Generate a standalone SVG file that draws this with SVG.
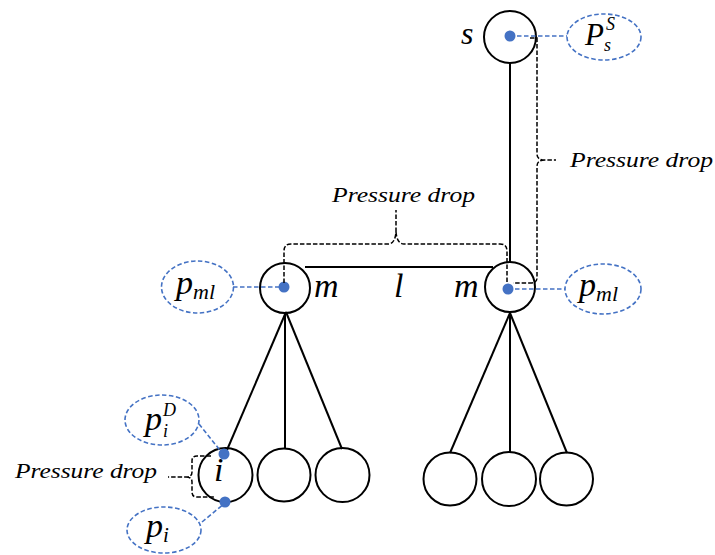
<svg xmlns="http://www.w3.org/2000/svg" width="715" height="555" viewBox="0 0 715 555">
<style>
.node{fill:none;stroke:#000;stroke-width:2}
.edge{fill:none;stroke:#000;stroke-width:2}
.dash{fill:none;stroke:#000;stroke-width:1.5;stroke-dasharray:4.5 2}
.bdash{fill:none;stroke:#4472C4;stroke-width:1.6;stroke-dasharray:4.5 2.5}
.dot{fill:#4472C4}
.math{font-family:"Liberation Serif","Times New Roman",serif;font-style:italic;fill:#000}
.lbl{font-family:"Liberation Serif","Times New Roman",serif;font-style:italic;font-size:22px;fill:#000}
</style>
<rect width="715" height="555" fill="#fff"/>
<g id="connectors">
<line class="edge" x1="510" y1="63" x2="510" y2="262"/>
<line class="edge" x1="305" y1="267" x2="493" y2="267"/>
<line class="edge" x1="286" y1="312" x2="227" y2="450"/>
<line class="edge" x1="285" y1="313" x2="285" y2="449"/>
<line class="edge" x1="286" y1="312" x2="342" y2="449"/>
<line class="edge" x1="510" y1="313" x2="450" y2="453"/>
<line class="edge" x1="510" y1="313" x2="510" y2="453"/>
<line class="edge" x1="510" y1="313" x2="567" y2="453"/>
</g>
<g id="node-s">
<circle class="node" cx="510" cy="37" r="26"/>
<text class="math" x="461" y="44" font-size="32">s</text>
</g>
<g id="node-m-left">
<circle class="node" cx="285" cy="288" r="25"/>
<text class="math" x="314" y="297" font-size="34">m</text>
</g>
<g id="label-l">
<text class="math" x="394" y="297" font-size="34">l</text>
</g>
<g id="node-m-right">
<circle class="node" cx="510" cy="287" r="25"/>
<text class="math" x="454" y="297" font-size="34">m</text>
</g>
<g id="node-i">
<circle class="node" cx="225.5" cy="475" r="27"/>
<text class="math" x="214" y="481" font-size="34">i</text>
</g>
<g id="node-c2"><circle class="node" cx="284" cy="475" r="26.5"/></g>
<g id="node-c3"><circle class="node" cx="342.5" cy="475" r="27"/></g>
<g id="node-c4"><circle class="node" cx="450" cy="479" r="26.5"/></g>
<g id="node-c5"><circle class="node" cx="509" cy="479" r="27"/></g>
<g id="node-c6"><circle class="node" cx="566.5" cy="479" r="26.5"/></g>
<g id="pressure-annotations">
<line class="bdash" x1="510" y1="36" x2="567" y2="36"/>
<line class="bdash" x1="233" y1="287" x2="284" y2="287"/>
<line class="bdash" x1="508" y1="289" x2="565" y2="289"/>
<line class="bdash" x1="199" y1="424" x2="223" y2="454"/>
<line class="bdash" x1="202" y1="522" x2="225" y2="503"/>
<circle class="dot" cx="510" cy="36" r="5.5"/>
<circle class="dot" cx="284" cy="287" r="5.5"/>
<circle class="dot" cx="508" cy="289" r="5.5"/>
<circle class="dot" cx="224" cy="454" r="5.5"/>
<circle class="dot" cx="225" cy="502" r="5.5"/>
<path class="dash" d="M284,283 V251 Q284,244 291,244 H388 Q395,244 396,232 V210 M396,232 Q397,244 404,244 H500 Q507,244 507,251 V283"/>
<path class="dash" d="M530,38 H537 V154 Q537,160 545,160 H556 M545,160 Q537,160 537,166 V278 Q537,283 530,283 H513"/>
<path class="dash" d="M211,456 H197 Q192,456 192,461 V472 Q192,477 186,477 H168 M186,477 Q192,477 192,482 V492 Q192,497 197,497 H214"/>
<text class="lbl" x="332" y="202" textLength="143" lengthAdjust="spacingAndGlyphs">Pressure drop</text>
<text class="lbl" x="570" y="167" textLength="143" lengthAdjust="spacingAndGlyphs">Pressure drop</text>
<text class="lbl" x="15" y="478" textLength="142" lengthAdjust="spacingAndGlyphs">Pressure drop</text>
</g>
<g id="label-Ps">
<ellipse class="bdash" cx="604" cy="37" rx="37" ry="23"/>
<text class="math" x="585" y="45" font-size="31">P<tspan font-size="18" dx="2" dy="-15">S</tspan><tspan font-size="18" dx="-11" dy="21">s</tspan></text>
</g>
<g id="label-pml-left">
<ellipse class="bdash" cx="197.5" cy="287" rx="36" ry="26"/>
<text class="math" x="176" y="294" font-size="34">p<tspan font-size="22" dy="5">ml</tspan></text>
</g>
<g id="label-pml-right">
<ellipse class="bdash" cx="603" cy="289" rx="38" ry="25"/>
<text class="math" x="579" y="296" font-size="34">p<tspan font-size="22" dy="5">ml</tspan></text>
</g>
<g id="label-piD">
<ellipse class="bdash" cx="162" cy="420" rx="37" ry="25"/>
<text class="math" x="145" y="430" font-size="34">p<tspan font-size="18" dx="1" dy="-14">D</tspan><tspan font-size="18" dx="-13" dy="21">i</tspan></text>
</g>
<g id="label-pi">
<ellipse class="bdash" cx="164" cy="530" rx="37" ry="23"/>
<text class="math" x="146" y="537" font-size="34">p<tspan font-size="21" dy="5">i</tspan></text>
</g>
</svg>
